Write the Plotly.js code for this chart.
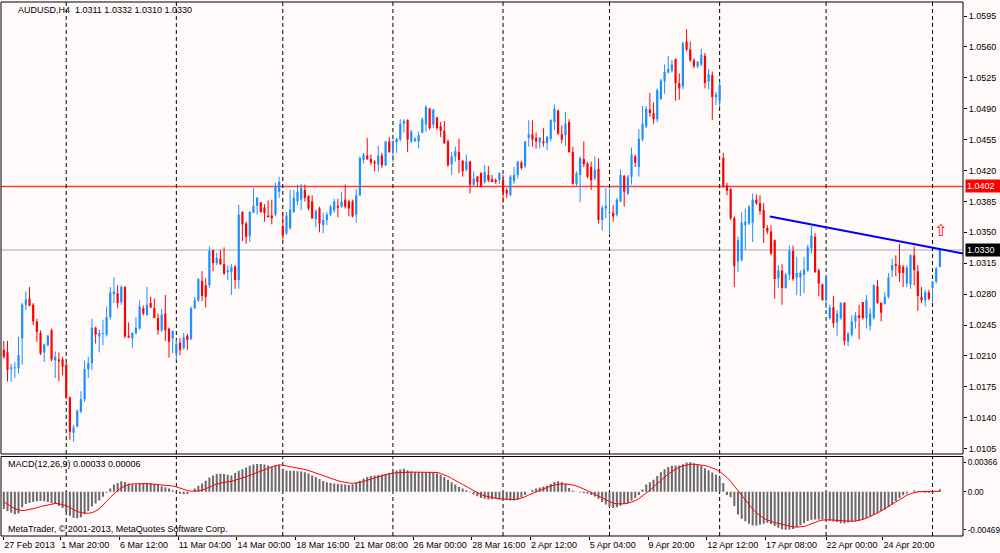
<!DOCTYPE html>
<html><head><meta charset="utf-8">
<script src="https://cdn.plot.ly/plotly-3.0.1.min.js"></script>
<style>html,body{margin:0;padding:0;background:#fffafa;}#chart{width:1000px;height:553px;}</style>
</head><body><div id="chart"></div>
<script>
// ---- AUDUSD H4 candles ----
const openP = [
1.0217,1.0214,1.0195,1.0196,1.0196,1.0230,1.0268,1.0275,1.0268,1.0249,
1.0236,1.0214,1.0222,1.0239,1.0205,1.0206,1.0206,1.0200,1.0163,1.0123,
1.0130,1.0147,1.0161,1.0195,1.0202,1.0242,1.0232,1.0235,1.0234,1.0254,
1.0280,1.0281,1.0271,1.0288,1.0233,1.0230,1.0236,1.0241,1.0264,1.0256,
1.0270,1.0264,1.0253,1.0239,1.0258,1.0241,1.0230,1.0213,1.0225,1.0219,
1.0233,1.0229,1.0264,1.0273,1.0295,1.0290,1.0290,1.0330,1.0315,1.0320,
1.0314,1.0305,1.0305,1.0311,1.0296,1.0373,1.0360,1.0346,1.0372,1.0380,
1.0384,1.0378,1.0369,1.0369,1.0370,1.0396,1.0357,1.0349,1.0355,1.0373,
1.0385,1.0387,1.0398,1.0391,1.0385,1.0365,1.0377,1.0358,1.0364,1.0370,
1.0375,1.0380,1.0379,1.0387,1.0385,1.0385,1.0370,1.0392,1.0432,1.0437,
1.0433,1.0430,1.0427,1.0437,1.0426,1.0453,1.0443,1.0452,1.0455,1.0473,
1.0477,1.0453,1.0453,1.0453,1.0463,1.0472,1.0490,1.0472,1.0480,1.0470,
1.0465,1.0453,1.0427,1.0436,1.0441,1.0431,1.0421,1.0430,1.0404,1.0413,
1.0417,1.0407,1.0415,1.0410,1.0409,1.0409,1.0409,1.0398,1.0392,1.0408,
1.0415,1.0429,1.0425,1.0457,1.0461,1.0457,1.0452,1.0453,1.0451,1.0456,
1.0475,1.0488,1.0461,1.0460,1.0475,1.0441,1.0405,1.0415,1.0433,1.0428,
1.0424,1.0411,1.0422,1.0364,1.0377,1.0372,1.0372,1.0370,1.0385,1.0414,
1.0394,1.0413,1.0436,1.0424,1.0455,1.0470,1.0489,1.0485,1.0478,1.0501,
1.0521,1.0531,1.0533,1.0546,1.0519,1.0515,1.0566,1.0557,1.0545,1.0538,
1.0540,1.0550,1.0521,1.0528,1.0503,1.0499,1.0434,1.0403,1.0399,1.0366,
1.0317,1.0319,1.0358,1.0360,1.0361,1.0387,1.0383,1.0375,1.0355,1.0351,
1.0341,1.0298,1.0307,1.0287,1.0302,1.0329,1.0299,1.0299,1.0302,1.0307,
1.0332,1.0345,1.0307,1.0291,1.0273,1.0253,1.0265,1.0248,1.0253,1.0270,
1.0226,1.0234,1.0249,1.0256,1.0271,1.0253,1.0244,1.0253,1.0289,1.0270,
1.0269,1.0277,1.0307,1.0314,1.0313,1.0311,1.0292,1.0291,1.0324,1.0306,
1.0277,1.0273,1.0282,1.0287,1.0294,1.0311];
const highP = [
1.0227,1.0227,1.0201,1.0203,1.0232,1.0270,1.0283,1.0288,1.0270,1.0252,
1.0239,1.0224,1.0234,1.0241,1.0215,1.0214,1.0209,1.0202,1.0164,1.0132,
1.0149,1.0170,1.0205,1.0209,1.0252,1.0243,1.0240,1.0251,1.0266,1.0288,
1.0299,1.0290,1.0290,1.0289,1.0248,1.0237,1.0254,1.0273,1.0267,1.0288,
1.0277,1.0275,1.0258,1.0263,1.0279,1.0242,1.0239,1.0228,1.0230,1.0236,
1.0235,1.0266,1.0277,1.0298,1.0306,1.0298,1.0334,1.0330,1.0327,1.0330,
1.0333,1.0313,1.0314,1.0313,1.0381,1.0374,1.0362,1.0374,1.0400,1.0390,
1.0384,1.0382,1.0386,1.0387,1.0406,1.0413,1.0373,1.0373,1.0398,1.0398,
1.0404,1.0405,1.0404,1.0392,1.0392,1.0376,1.0379,1.0372,1.0373,1.0381,
1.0388,1.0388,1.0396,1.0404,1.0387,1.0387,1.0399,1.0436,1.0440,1.0457,
1.0438,1.0432,1.0448,1.0440,1.0453,1.0458,1.0455,1.0457,1.0478,1.0478,
1.0478,1.0466,1.0458,1.0464,1.0480,1.0494,1.0491,1.0490,1.0481,1.0475,
1.0476,1.0455,1.0441,1.0447,1.0456,1.0432,1.0438,1.0431,1.0419,1.0414,
1.0418,1.0426,1.0425,1.0415,1.0411,1.0418,1.0415,1.0400,1.0415,1.0424,
1.0431,1.0431,1.0453,1.0477,1.0477,1.0463,1.0458,1.0468,1.0459,1.0478,
1.0495,1.0489,1.0471,1.0486,1.0478,1.0447,1.0419,1.0436,1.0453,1.0430,
1.0430,1.0436,1.0434,1.0380,1.0400,1.0399,1.0381,1.0389,1.0421,1.0415,
1.0415,1.0446,1.0438,1.0467,1.0493,1.0493,1.0508,1.0497,1.0513,1.0524,
1.0540,1.0550,1.0545,1.0547,1.0530,1.0566,1.0580,1.0566,1.0547,1.0544,
1.0558,1.0553,1.0535,1.0532,1.0509,1.0521,1.0440,1.0406,1.0400,1.0368,
1.0345,1.0373,1.0377,1.0381,1.0394,1.0393,1.0392,1.0383,1.0358,1.0358,
1.0342,1.0313,1.0314,1.0304,1.0335,1.0335,1.0322,1.0307,1.0322,1.0336,
1.0357,1.0349,1.0309,1.0292,1.0300,1.0268,1.0278,1.0262,1.0271,1.0271,
1.0237,1.0256,1.0260,1.0268,1.0271,1.0279,1.0264,1.0291,1.0296,1.0271,
1.0282,1.0304,1.0320,1.0324,1.0337,1.0313,1.0313,1.0325,1.0334,1.0313,
1.0288,1.0285,1.0285,1.0295,1.0311,1.0332];
const lowP = [
1.0207,1.0181,1.0181,1.0185,1.0190,1.0200,1.0262,1.0266,1.0245,1.0226,
1.0211,1.0203,1.0221,1.0204,1.0185,1.0181,1.0188,1.0161,1.0115,1.0113,
1.0129,1.0145,1.0158,1.0185,1.0194,1.0224,1.0214,1.0222,1.0232,1.0251,
1.0270,1.0264,1.0268,1.0230,1.0230,1.0219,1.0234,1.0240,1.0256,1.0256,
1.0264,1.0253,1.0234,1.0237,1.0227,1.0208,1.0213,1.0205,1.0211,1.0217,
1.0217,1.0228,1.0263,1.0271,1.0272,1.0265,1.0287,1.0306,1.0313,1.0313,
1.0302,1.0296,1.0279,1.0286,1.0286,1.0340,1.0337,1.0339,1.0372,1.0370,
1.0372,1.0362,1.0367,1.0359,1.0368,1.0389,1.0342,1.0347,1.0353,1.0372,
1.0381,1.0375,1.0385,1.0375,1.0365,1.0356,1.0350,1.0349,1.0358,1.0368,
1.0372,1.0367,1.0378,1.0377,1.0368,1.0367,1.0361,1.0391,1.0428,1.0432,
1.0426,1.0419,1.0419,1.0423,1.0425,1.0440,1.0430,1.0440,1.0453,1.0463,
1.0441,1.0451,1.0453,1.0445,1.0462,1.0464,1.0466,1.0468,1.0466,1.0458,
1.0450,1.0424,1.0415,1.0430,1.0417,1.0413,1.0419,1.0394,1.0402,1.0402,
1.0401,1.0405,1.0407,1.0407,1.0405,1.0405,1.0383,1.0389,1.0391,1.0405,
1.0411,1.0421,1.0423,1.0447,1.0447,1.0445,1.0445,1.0447,1.0443,1.0453,
1.0466,1.0460,1.0451,1.0448,1.0440,1.0404,1.0402,1.0384,1.0424,1.0411,
1.0398,1.0409,1.0360,1.0352,1.0366,1.0347,1.0362,1.0368,1.0384,1.0379,
1.0392,1.0404,1.0424,1.0413,1.0453,1.0468,1.0481,1.0473,1.0475,1.0500,
1.0507,1.0530,1.0531,1.0499,1.0500,1.0512,1.0555,1.0543,1.0536,1.0536,
1.0538,1.0513,1.0512,1.0477,1.0494,1.0492,1.0400,1.0392,1.0364,1.0288,
1.0305,1.0317,1.0330,1.0358,1.0339,1.0381,1.0370,1.0338,1.0348,1.0324,
1.0275,1.0287,1.0268,1.0286,1.0296,1.0295,1.0279,1.0278,1.0281,1.0305,
1.0326,1.0304,1.0278,1.0273,1.0264,1.0251,1.0242,1.0233,1.0251,1.0222,
1.0221,1.0232,1.0241,1.0229,1.0251,1.0241,1.0239,1.0251,1.0269,1.0249,
1.0268,1.0275,1.0299,1.0300,1.0294,1.0288,1.0288,1.0286,1.0290,1.0261,
1.0270,1.0266,1.0273,1.0271,1.0292,1.0310];
const closeP = [
1.0209,1.0194,1.0197,1.0197,1.0211,1.0268,1.0274,1.0267,1.0249,1.0237,
1.0213,1.0223,1.0233,1.0206,1.0209,1.0204,1.0198,1.0163,1.0124,1.0129,
1.0148,1.0161,1.0195,1.0202,1.0242,1.0234,1.0236,1.0236,1.0254,1.0282,
1.0283,1.0270,1.0288,1.0232,1.0231,1.0236,1.0242,1.0266,1.0258,1.0268,
1.0265,1.0253,1.0239,1.0257,1.0239,1.0226,1.0238,1.0224,1.0217,1.0231,
1.0228,1.0264,1.0273,1.0297,1.0278,1.0277,1.0329,1.0315,1.0321,1.0314,
1.0303,1.0307,1.0311,1.0296,1.0370,1.0359,1.0345,1.0373,1.0380,1.0389,
1.0373,1.0372,1.0367,1.0366,1.0402,1.0407,1.0347,1.0369,1.0376,1.0389,
1.0396,1.0400,1.0389,1.0377,1.0366,1.0374,1.0360,1.0364,1.0370,1.0379,
1.0385,1.0378,1.0385,1.0379,1.0377,1.0368,1.0392,1.0434,1.0438,1.0433,
1.0429,1.0428,1.0437,1.0426,1.0453,1.0441,1.0453,1.0456,1.0473,1.0476,
1.0455,1.0464,1.0456,1.0460,1.0478,1.0492,1.0468,1.0489,1.0468,1.0465,
1.0451,1.0426,1.0436,1.0442,1.0432,1.0419,1.0430,1.0404,1.0411,1.0407,
1.0402,1.0418,1.0409,1.0407,1.0407,1.0417,1.0395,1.0394,1.0413,1.0415,
1.0430,1.0423,1.0453,1.0461,1.0455,1.0453,1.0457,1.0451,1.0458,1.0477,
1.0490,1.0462,1.0455,1.0473,1.0441,1.0405,1.0417,1.0434,1.0427,1.0413,
1.0409,1.0421,1.0364,1.0378,1.0380,1.0373,1.0368,1.0387,1.0415,1.0396,
1.0413,1.0438,1.0429,1.0456,1.0473,1.0490,1.0485,1.0478,1.0511,1.0522,
1.0532,1.0535,1.0540,1.0519,1.0513,1.0564,1.0557,1.0545,1.0538,1.0543,
1.0551,1.0519,1.0529,1.0503,1.0506,1.0517,1.0402,1.0397,1.0366,1.0312,
1.0341,1.0361,1.0362,1.0379,1.0387,1.0383,1.0374,1.0355,1.0351,1.0326,
1.0297,1.0307,1.0287,1.0302,1.0329,1.0297,1.0304,1.0304,1.0308,1.0333,
1.0346,1.0305,1.0292,1.0273,1.0299,1.0265,1.0247,1.0258,1.0270,1.0227,
1.0235,1.0249,1.0256,1.0253,1.0253,1.0273,1.0258,1.0290,1.0270,1.0259,
1.0277,1.0299,1.0313,1.0312,1.0304,1.0304,1.0310,1.0324,1.0307,1.0278,
1.0273,1.0282,1.0275,1.0294,1.0309,1.0330];

// ---- MACD(12,26,9): main (histogram) and signal ----
const macdMain = [
-0.00213,-0.00239,-0.00258,-0.00277,-0.00266,-0.00190,-0.00152,-0.00137,-0.00125,-0.00118,
-0.00114,-0.00118,-0.00125,-0.00137,-0.00152,-0.00175,-0.00201,-0.00251,-0.00296,-0.00323,
-0.00327,-0.00315,-0.00277,-0.00239,-0.00182,-0.00144,-0.00106,-0.00061,-0.00011,0.00041,
0.00090,0.00110,0.00130,0.00122,0.00102,0.00090,0.00090,0.00102,0.00110,0.00110,
0.00106,0.00098,0.00085,0.00069,0.00057,0.00041,0.00020,-0.00008,-0.00023,-0.00030,
-0.00027,0.00002,0.00041,0.00077,0.00102,0.00138,0.00179,0.00204,0.00220,0.00224,
0.00220,0.00212,0.00204,0.00232,0.00260,0.00281,0.00301,0.00322,0.00338,0.00346,
0.00346,0.00338,0.00326,0.00313,0.00322,0.00334,0.00285,0.00265,0.00260,0.00260,
0.00256,0.00252,0.00244,0.00228,0.00204,0.00183,0.00159,0.00134,0.00118,0.00110,
0.00102,0.00098,0.00094,0.00090,0.00085,0.00094,0.00114,0.00138,0.00163,0.00183,
0.00195,0.00204,0.00208,0.00216,0.00224,0.00232,0.00248,0.00265,0.00277,0.00285,
0.00269,0.00252,0.00244,0.00244,0.00244,0.00244,0.00244,0.00240,0.00228,0.00212,
0.00183,0.00151,0.00118,0.00090,0.00061,0.00041,0.00020,-0.00004,-0.00030,-0.00053,
-0.00076,-0.00087,-0.00095,-0.00091,-0.00087,-0.00091,-0.00095,-0.00099,-0.00106,-0.00106,
-0.00099,-0.00068,-0.00038,0.00001,0.00024,0.00041,0.00053,0.00065,0.00077,0.00098,
0.00122,0.00130,0.00118,0.00098,0.00049,0.00016,0.00004,-0.00008,-0.00015,-0.00023,
-0.00038,-0.00057,-0.00087,-0.00125,-0.00156,-0.00190,-0.00201,-0.00190,-0.00171,-0.00152,
-0.00137,-0.00106,-0.00076,-0.00038,0.00028,0.00090,0.00118,0.00151,0.00195,0.00244,
0.00281,0.00309,0.00322,0.00326,0.00326,0.00342,0.00362,0.00366,0.00354,0.00338,
0.00322,0.00293,0.00269,0.00240,0.00212,0.00179,0.00110,-0.00038,-0.00068,-0.00175,
-0.00281,-0.00334,-0.00365,-0.00395,-0.00414,-0.00418,-0.00407,-0.00395,-0.00384,-0.00399,
-0.00422,-0.00445,-0.00464,-0.00469,-0.00467,-0.00460,-0.00437,-0.00414,-0.00388,-0.00361,
-0.00346,-0.00342,-0.00342,-0.00342,-0.00350,-0.00361,-0.00369,-0.00376,-0.00388,-0.00391,
-0.00380,-0.00369,-0.00365,-0.00361,-0.00342,-0.00323,-0.00304,-0.00285,-0.00262,-0.00239,
-0.00220,-0.00190,-0.00156,-0.00114,-0.00076,-0.00042,-0.00019,0.00000,0.00016,0.00012,
-0.00004,-0.00011,-0.00011,-0.00008,0.00008,0.00033];
const macdSignal = [
-0.00125,-0.00152,-0.00182,-0.00209,-0.00224,-0.00232,-0.00228,-0.00220,-0.00209,-0.00198,
-0.00182,-0.00171,-0.00160,-0.00148,-0.00144,-0.00148,-0.00156,-0.00171,-0.00194,-0.00220,
-0.00243,-0.00258,-0.00266,-0.00266,-0.00258,-0.00239,-0.00209,-0.00167,-0.00118,-0.00068,
-0.00023,0.00016,0.00049,0.00073,0.00090,0.00098,0.00102,0.00102,0.00102,0.00102,
0.00098,0.00098,0.00094,0.00090,0.00085,0.00081,0.00073,0.00061,0.00045,0.00028,
0.00016,0.00008,0.00008,0.00012,0.00020,0.00037,0.00057,0.00077,0.00098,0.00110,
0.00118,0.00126,0.00130,0.00142,0.00155,0.00171,0.00187,0.00204,0.00220,0.00236,
0.00252,0.00269,0.00289,0.00309,0.00326,0.00334,0.00330,0.00322,0.00313,0.00305,
0.00297,0.00289,0.00277,0.00265,0.00248,0.00232,0.00216,0.00199,0.00183,0.00167,
0.00151,0.00138,0.00126,0.00114,0.00110,0.00106,0.00110,0.00118,0.00130,0.00142,
0.00155,0.00171,0.00187,0.00199,0.00212,0.00224,0.00232,0.00236,0.00240,0.00244,
0.00244,0.00244,0.00244,0.00244,0.00244,0.00244,0.00244,0.00244,0.00240,0.00228,
0.00212,0.00191,0.00167,0.00142,0.00118,0.00090,0.00061,0.00033,0.00008,-0.00015,
-0.00034,-0.00049,-0.00061,-0.00072,-0.00080,-0.00087,-0.00091,-0.00095,-0.00095,-0.00095,
-0.00091,-0.00080,-0.00061,-0.00038,-0.00019,0.00000,0.00020,0.00041,0.00057,0.00073,
0.00085,0.00094,0.00098,0.00098,0.00094,0.00085,0.00073,0.00057,0.00037,0.00016,
-0.00008,-0.00030,-0.00057,-0.00084,-0.00106,-0.00125,-0.00141,-0.00148,-0.00152,-0.00148,
-0.00141,-0.00129,-0.00110,-0.00084,-0.00053,-0.00019,0.00020,0.00061,0.00102,0.00142,
0.00183,0.00220,0.00252,0.00281,0.00305,0.00322,0.00334,0.00342,0.00342,0.00338,
0.00334,0.00326,0.00313,0.00297,0.00277,0.00252,0.00220,0.00179,0.00130,0.00073,
0.00008,-0.00053,-0.00110,-0.00163,-0.00213,-0.00258,-0.00296,-0.00327,-0.00350,-0.00369,
-0.00380,-0.00391,-0.00403,-0.00414,-0.00426,-0.00433,-0.00437,-0.00437,-0.00429,-0.00414,
-0.00395,-0.00376,-0.00361,-0.00350,-0.00346,-0.00346,-0.00350,-0.00353,-0.00361,-0.00365,
-0.00365,-0.00365,-0.00361,-0.00353,-0.00342,-0.00327,-0.00308,-0.00285,-0.00262,-0.00236,
-0.00209,-0.00182,-0.00152,-0.00122,-0.00091,-0.00065,-0.00042,-0.00023,-0.00008,0.00000,
0.00004,0.00004,0.00004,0.00004,0.00005,0.00006];

// ---- axis labels, separators, levels ----
const weekStartBars = [17,47,76,106,136,165,195,224,253];
const timeTickBars = [0,15.5,31.5,47.5,63.5,79.5,95.5,111.5,127.5,143.5,159.5,175.5,191.5,207.5,224,239.5];
const timeTickText = ['27 Feb 2013','1 Mar 20:00','6 Mar 12:00','11 Mar 04:00','14 Mar 00:00','18 Mar 16:00',
  '21 Mar 08:00','26 Mar 00:00','28 Mar 16:00','2 Apr 12:00','5 Apr 04:00','9 Apr 20:00','12 Apr 12:00',
  '17 Apr 08:00','22 Apr 00:00','24 Apr 20:00'];
const priceTicks = [1.0105,1.0140,1.0175,1.0210,1.0245,1.0280,1.0315,1.0350,1.0385,1.0420,1.0455,1.0490,1.0525,1.0560,1.0595];
const macdTicks = [0.00366,0.00,-0.00469];
const macdTickText = ['0.00366','0.00','-0.00469'];
const levelPrice = 1.0402;
const bidPrice = 1.0330;
const trendBars = [208.7,261.3];
const trendPrices = [1.0368,1.0326];
const arrowBar = [255.2];
const arrowPrice = [1.0350];
const headerText = 'AUDUSD,H4\u00a0 1.0311 1.0332 1.0310 1.0330';
const macdText = 'MACD(12,26,9) 0.00033 0.00006';

// ---- build traces ----
const UP = '#1E90FF', DN = '#FF0000';
const bars = closeP.map((_, i) => i);
const wk = {up:{x:[],y:[]}, dn:{x:[],y:[]}};
const bd = {up:{x:[],b:[],h:[]}, dn:{x:[],b:[],h:[]}};
const minBody = 0.00007;
bars.forEach(i => {
  const k = closeP[i] >= openP[i] ? 'up' : 'dn';
  wk[k].x.push(i, i, null); wk[k].y.push(lowP[i], highP[i], null);
  const lo = Math.min(openP[i], closeP[i]);
  const h = Math.max(Math.abs(closeP[i] - openP[i]), minBody);
  bd[k].x.push(i); bd[k].b.push(lo); bd[k].h.push(h);
});
const traces = [
  {type:'scatter', mode:'lines', x:wk.up.x, y:wk.up.y, line:{color:UP, width:1}, hoverinfo:'skip'},
  {type:'scatter', mode:'lines', x:wk.dn.x, y:wk.dn.y, line:{color:DN, width:1}, hoverinfo:'skip'},
  {type:'bar', x:bd.up.x, y:bd.up.h, base:bd.up.b, width:0.6, marker:{color:UP, line:{width:0}}, hoverinfo:'skip'},
  {type:'bar', x:bd.dn.x, y:bd.dn.h, base:bd.dn.b, width:0.6, marker:{color:DN, line:{width:0}}, hoverinfo:'skip'},
  {type:'scatter', mode:'lines', x:trendBars, y:trendPrices, line:{color:'#0000FF', width:2}, hoverinfo:'skip'},
  {type:'scatter', mode:'text', x:arrowBar, y:arrowPrice, text:['\u21E7'], textfont:{family:'DejaVu Sans', size:16, color:'#FF0000'}, hoverinfo:'skip'},
  {type:'bar', x:bars, y:macdMain, xaxis:'x', yaxis:'y2', width:0.55, marker:{color:'#6a6a6a', line:{width:0}}, hoverinfo:'skip'},
  {type:'scatter', mode:'lines', x:bars, y:macdSignal, xaxis:'x', yaxis:'y2', line:{color:'#FF0000', width:1}, hoverinfo:'skip'}
];

const MAIN_BOTTOM = 0.15356, MACD_TOP = 0.1489;
const shapes = [
  {type:'line', xref:'paper', x0:0, x1:1, yref:'y', y0:levelPrice, y1:levelPrice, line:{color:'#FF3C3C', width:1.5}, layer:'below'},
  {type:'line', xref:'paper', x0:0, x1:1, yref:'y', y0:bidPrice, y1:bidPrice, line:{color:'#C4C4C4', width:1.5}, layer:'below'}
];
weekStartBars.forEach(b => {
  shapes.push({type:'line', xref:'x', x0:b, x1:b, yref:'y domain', y0:0, y1:1, line:{color:'#000', width:1, dash:'4px,3px'}, layer:'below'});
  shapes.push({type:'line', xref:'x', x0:b, x1:b, yref:'y2 domain', y0:0, y1:1, line:{color:'#000', width:1, dash:'4px,3px'}, layer:'below'});
});
shapes.push({type:'rect', xref:'paper', yref:'paper', x0:0, x1:1, y0:MAIN_BOTTOM, y1:1, line:{color:'#000', width:1}, fillcolor:'rgba(0,0,0,0)'});
shapes.push({type:'rect', xref:'paper', yref:'paper', x0:0, x1:1, y0:0, y1:MACD_TOP, line:{color:'#000', width:1}, fillcolor:'rgba(0,0,0,0)'});

const F = 'Liberation Sans, Arial, sans-serif';
const annotations = [
  {xref:'paper', yref:'paper', x:0.0156, y:0.985, xanchor:'left', yanchor:'middle', text:headerText, showarrow:false, font:{family:F, size:9, color:'#000'}},
  {xref:'paper', yref:'paper', x:0.0052, y:0.1339, xanchor:'left', yanchor:'middle', text:macdText, showarrow:false, font:{family:F, size:9, color:'#000'}},
  {xref:'paper', yref:'paper', x:0.0052, y:0.0122, xanchor:'left', yanchor:'middle', text:'MetaTrader, \u00a9 2001-2013, MetaQuotes Software Corp.', showarrow:false, font:{family:F, size:9, color:'#000'}},
  {xref:'paper', x:1, xanchor:'left', xshift:2, yref:'y', y:levelPrice, yanchor:'middle', text:levelPrice.toFixed(4), showarrow:false, bgcolor:'#FF0000', borderpad:1, width:33, align:'left', font:{family:F, size:9, color:'#FFFFFF'}},
  {xref:'paper', x:1, xanchor:'left', xshift:2, yref:'y', y:bidPrice, yanchor:'middle', text:bidPrice.toFixed(4), showarrow:false, bgcolor:'#000000', borderpad:1, width:33, align:'left', font:{family:F, size:9, color:'#FFFFFF'}}
];

const layout = {
  width:1000, height:553,
  margin:{l:1, r:37, t:2, b:17, pad:0},
  paper_bgcolor:'#FFFAFA', plot_bgcolor:'#FFFAFA',
  showlegend:false, barmode:'overlay',
  font:{family:F, size:9, color:'#000'},
  xaxis:{range:[-0.77,261.3], anchor:'y2', tickvals:timeTickBars, ticktext:timeTickText,
    ticks:'outside', ticklen:3, tickcolor:'#000', ticklabelposition:'outside right', tickangle:0,
    showgrid:false, zeroline:false, showline:false, tickfont:{family:F, size:9, color:'#000'}},
  yaxis:{domain:[MAIN_BOTTOM,1], range:[1.009892,1.061086], side:'right', tickvals:priceTicks,
    ticktext:priceTicks.map(v => v.toFixed(4)), ticks:'outside', ticklen:3, tickcolor:'#000',
    showgrid:false, zeroline:false, showline:false, tickfont:{family:F, size:9, color:'#000'}},
  yaxis2:{domain:[0,MACD_TOP], range:[-0.00547,0.00438], side:'right', tickvals:macdTicks, ticktext:macdTickText,
    ticks:'outside', ticklen:2, tickcolor:'#000', showgrid:false, zeroline:false, showline:false,
    tickfont:{family:F, size:8.2, color:'#000'}},
  shapes:shapes, annotations:annotations
};
Plotly.newPlot('chart', traces, layout, {staticPlot:true, displayModeBar:false});
</script></body></html>
